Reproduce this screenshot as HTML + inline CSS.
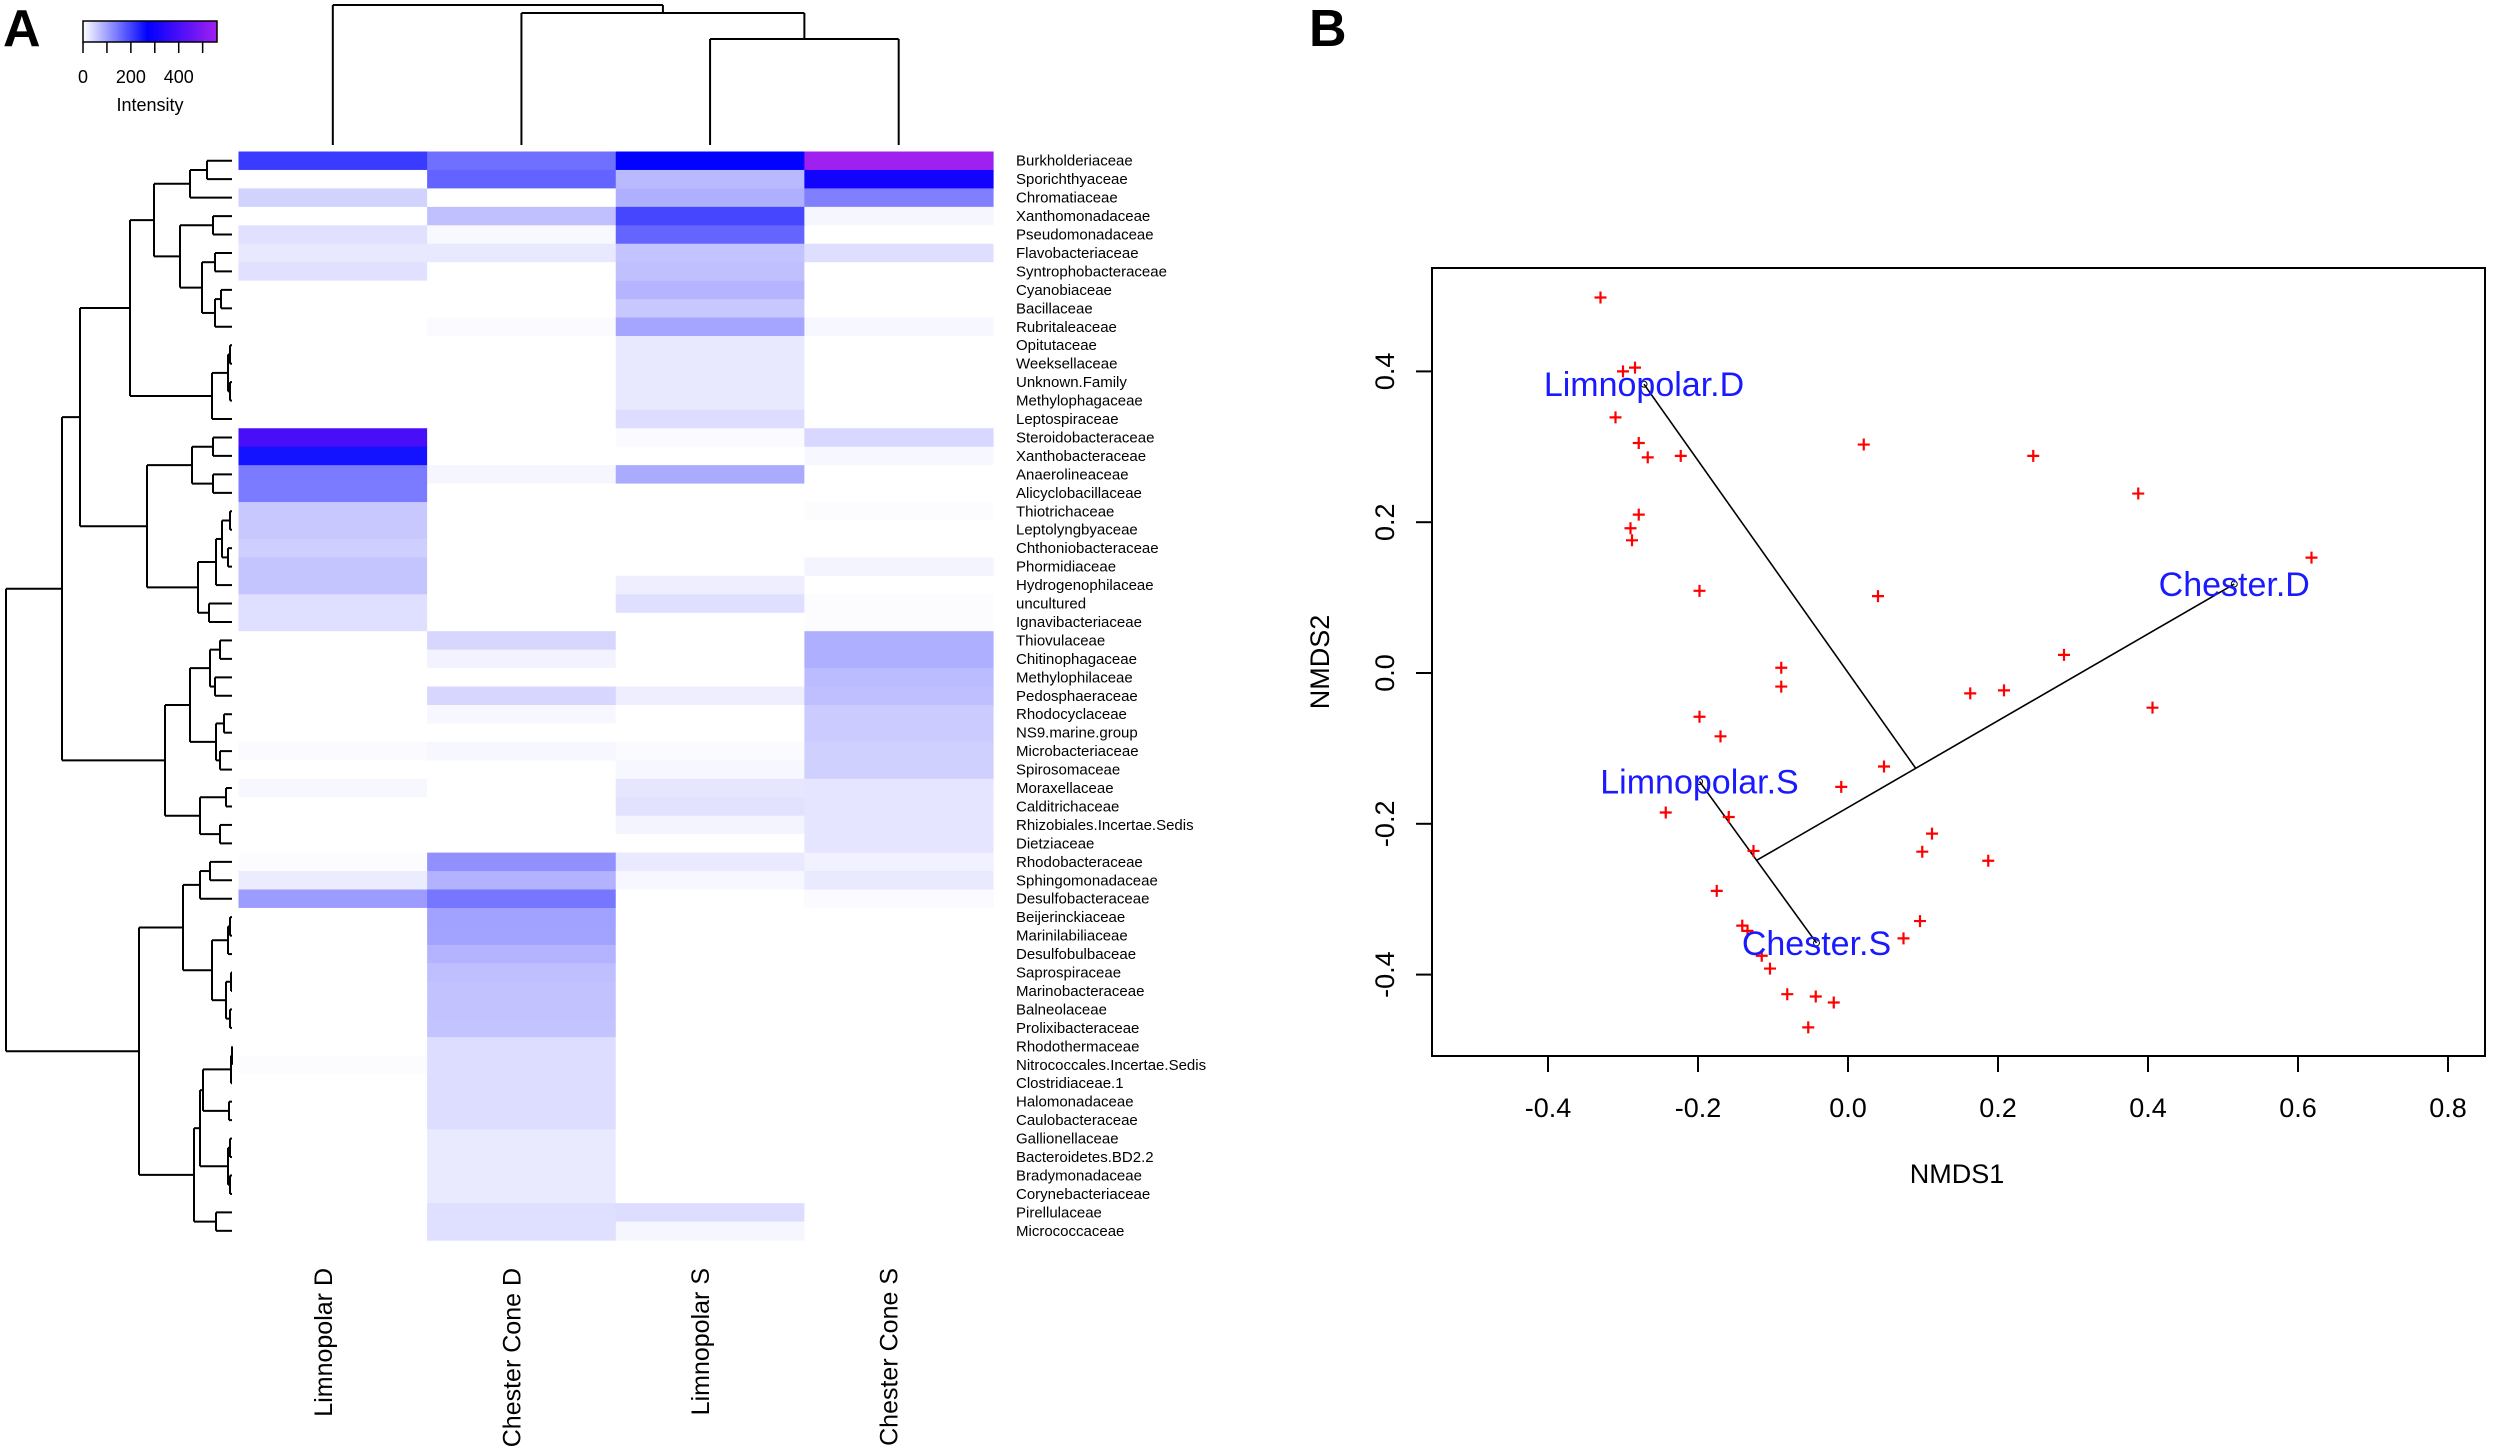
<!DOCTYPE html>
<html><head><meta charset="utf-8"><style>
html,body{margin:0;padding:0;background:#fff;}
svg{display:block;font-family:"Liberation Sans",Arial,sans-serif;}
</style></head><body>
<svg id="fig" width="2500" height="1453" viewBox="0 0 2500 1453">
<rect width="2500" height="1453" fill="#fff"/>
<text x="3" y="46" font-size="52" font-weight="bold">A</text>
<text x="1309" y="46" font-size="52" font-weight="bold">B</text>
<g id="heat"></g>
<g id="nmds"></g>
</svg>
<script>
const families = ["Burkholderiaceae","Sporichthyaceae","Chromatiaceae","Xanthomonadaceae","Pseudomonadaceae","Flavobacteriaceae","Syntrophobacteraceae","Cyanobiaceae","Bacillaceae","Rubritaleaceae","Opitutaceae","Weeksellaceae","Unknown.Family","Methylophagaceae","Leptospiraceae","Steroidobacteraceae","Xanthobacteraceae","Anaerolineaceae","Alicyclobacillaceae","Thiotrichaceae","Leptolyngbyaceae","Chthoniobacteraceae","Phormidiaceae","Hydrogenophilaceae","uncultured","Ignavibacteriaceae","Thiovulaceae","Chitinophagaceae","Methylophilaceae","Pedosphaeraceae","Rhodocyclaceae","NS9.marine.group","Microbacteriaceae","Spirosomaceae","Moraxellaceae","Calditrichaceae","Rhizobiales.Incertae.Sedis","Dietziaceae","Rhodobacteraceae","Sphingomonadaceae","Desulfobacteraceae","Beijerinckiaceae","Marinilabiliaceae","Desulfobulbaceae","Saprospiraceae","Marinobacteraceae","Balneolaceae","Prolixibacteraceae","Rhodothermaceae","Nitrococcales.Incertae.Sedis","Clostridiaceae.1","Halomonadaceae","Caulobacteraceae","Gallionellaceae","Bacteroidetes.BD2.2","Bradymonadaceae","Corynebacteriaceae","Pirellulaceae","Micrococcaceae"];
const samples = ["Limnopolar D","Chester Cone D","Limnopolar S","Chester Cone S"];
const intensity = [
[207,151,275,570],[0,165,74,300],[48,0,85,135],[0,67,196,10],[32,7,164,0],[24,24,64,35],[32,0,67,0],[0,0,78,0],[0,0,58,0],[0,5,95,8],
[0,0,24,0],[0,0,24,0],[0,0,24,0],[0,0,24,0],[0,0,36,0],[400,0,5,42],[250,0,0,8],[140,10,90,0],[140,0,0,0],[58,0,0,3],
[58,0,0,0],[52,0,0,0],[62,0,0,12],[62,0,18,0],[34,0,34,3],[34,0,0,3],[0,43,0,85],[0,13,0,85],[0,0,0,72],[0,43,18,68],
[0,8,0,55],[0,0,0,55],[5,8,5,50],[0,0,8,50],[8,0,27,28],[0,0,31,28],[0,0,12,28],[0,0,0,28],[3,118,22,15],[20,82,8,22],
[105,145,0,5],[0,100,0,0],[0,98,0,0],[0,80,0,0],[0,68,0,0],[0,65,0,0],[0,65,0,0],[0,63,0,0],[0,36,0,0],[3,36,0,0],
[0,36,0,0],[0,36,0,0],[0,36,0,0],[0,22,0,0],[0,22,0,0],[0,22,0,0],[0,22,0,0],[0,34,36,0],[0,34,10,0]];
const legendTicks = [0,100,200,300,400,500];
const legendLabels = [0,200,400];
const colTree = [5,0,[13,1,[39,2,3]]];
const rowTree = [6,
 [62,
  [80,
   [130,[154,[190,[207,0,1],2],[180,[213,3,4],[202,[215,5,6],[215,[221,7,8],9]]]],
        [212,[228,[230,10,11],[230,12,13]],14]],
   [147,[192,[213,15,16],[213,17,18]],
        [198,[216,[222,[230,19,20],[228,21,22]],23],[209,24,25]]]],
  [165,[190,[210,[220,26,27],[215,28,29]],[216,[224,30,31],[220,32,33]]],
       [200,[226,34,35],[220,36,37]]]],
 [139,
  [183,[200,[210,38,39],40],[212,[228,[230,41,42],43],[226,[231,44,45],[230,46,47]]]],
  [194,[200,[203,[231,[232,48,49],50],[229,51,52]],[228,[230,53,54],[230,55,56]]],[216,57,58]]]];

const NS='http://www.w3.org/2000/svg';
function mk(tag, attrs, parent){const e=document.createElementNS(NS,tag);for(const k in attrs)e.setAttribute(k,attrs[k]);parent.appendChild(e);return e;}
const heat=document.getElementById('heat');
const HX0=238.5, HX1=993, HY0=151.5, RH=18.45;
const CW=(HX1-HX0)/samples.length;
function colX(j){return HX0+CW*j;}
function rowY(i){return HY0+RH*i;}
function colorOf(v){
  if(v<=270){const t=v/270;const c=Math.round(255*(1-t));return `rgb(${c},${c},255)`;}
  const t=Math.min(1,(v-270)/290);return `rgb(${Math.round(160*t)},${Math.round(32*t)},${Math.round(255-15*t)})`;
}
const lg=mk('g',{},heat);


const defs=mk('defs',{},lg);
const grad=mk('linearGradient',{id:'lgrad',x1:'0',x2:'1',y1:'0',y2:'0'},defs);
[[0,'#fff'],[270/560,'rgb(0,0,255)'],[1,'rgb(160,32,240)']].forEach(s=>mk('stop',{offset:s[0],'stop-color':s[1]},grad));
const LX0=83, LX1=217, LMAX=560;
function lx(v){return LX0+(LX1-LX0)*v/LMAX;}
const lr=mk('rect',{x:LX0,y:21,width:LX1-LX0,height:21,fill:'url(#lgrad)',stroke:'#000','stroke-width':1.5},lg);


legendTicks.forEach(t=>{const l=mk('line',{x1:lx(t),x2:lx(t),y1:42,y2:53,stroke:'#000','stroke-width':1.5},lg);
  
  });
legendLabels.forEach(t=>{const tx=mk('text',{x:lx(t),y:83,'font-size':18,'text-anchor':'middle'},lg);tx.textContent=t;
  
  });
const lt=mk('text',{x:150,y:111,'font-size':18,'text-anchor':'middle'},lg);lt.textContent='Intensity';


intensity.forEach((row,i)=>row.forEach((v,j)=>{
  const r=mk('rect',{x:colX(j),y:rowY(i),width:CW+0.6,height:RH+0.6,fill:colorOf(v)},heat);
  
  
}));
families.forEach((f,i)=>{const t=mk('text',{x:1016,y:rowY(i)+RH/2+5,'font-size':15},heat);t.textContent=f;
  
  });
samples.forEach((s,j)=>{const cx=colX(j)+CW/2-1;
  const t=mk('text',{x:0,y:0,'font-size':25,'text-anchor':'end',transform:`translate(${cx},1268) rotate(-90)`},heat);t.textContent=s;
  
  });
const dg=mk('g',{stroke:'#000','stroke-width':2,fill:'none'},heat);


function line(x1,y1,x2,y2,name){const l=mk('line',{x1,y1,x2,y2},dg);
  
  }
function drawRow(n){
  if(typeof n==='number')return [232,rowY(n)+RH/2];
  const a=drawRow(n[1]),b=drawRow(n[2]),h=n[0];
  line(h,a[1],h,b[1],'row-dendrogram-branch');line(h,a[1],a[0],a[1],'row-dendrogram-branch');line(h,b[1],b[0],b[1],'row-dendrogram-branch');
  return [h,(a[1]+b[1])/2];
}
drawRow(rowTree);
function drawCol(n){
  if(typeof n==='number')return [colX(n)+CW/2,145];
  const a=drawCol(n[1]),b=drawCol(n[2]),h=n[0];
  line(a[0],h,b[0],h,'column-dendrogram-branch');line(a[0],h,a[0],a[1],'column-dendrogram-branch');line(b[0],h,b[0],b[1],'column-dendrogram-branch');
  return [(a[0]+b[0])/2,h];
}
drawCol(colTree);

const nx = [-0.330,-0.300,-0.284,-0.310,-0.279,-0.267,-0.223,-0.279,-0.290,-0.288,-0.198,0.021,0.247,0.387,0.618,0.040,-0.089,-0.089,0.288,0.163,0.208,0.406,-0.198,-0.170,0.048,-0.009,-0.243,-0.159,-0.126,0.112,0.099,0.187,-0.175,0.096,0.074,-0.141,-0.134,-0.115,-0.104,-0.081,-0.043,-0.019,-0.053];
const ny = [0.498,0.400,0.405,0.339,0.305,0.286,0.288,0.210,0.192,0.176,0.109,0.303,0.288,0.238,0.153,0.102,0.007,-0.018,0.024,-0.027,-0.023,-0.046,-0.058,-0.084,-0.124,-0.151,-0.185,-0.191,-0.236,-0.213,-0.237,-0.249,-0.289,-0.329,-0.352,-0.335,-0.342,-0.375,-0.392,-0.426,-0.429,-0.437,-0.470];
const groupNames = ["Limnopolar.D","Chester.D","Limnopolar.S","Chester.S"];
const groupX = [-0.272,0.515,-0.198,-0.042];
const groupY = [0.383,0.118,-0.144,-0.358];
const nodeX = [0.090,-0.121];
const nodeY = [-0.126,-0.248];
const xTicks = [-0.4,-0.2,0.0,0.2,0.4,0.6,0.8];
const yTicks = [-0.4,-0.2,0.0,0.2,0.4];
const xLabels = ["-0.4","-0.2","0.0","0.2","0.4","0.6","0.8"];
const yLabels = ["-0.4","-0.2","0.0","0.2","0.4"];
const nm=document.getElementById('nmds');
function sx(v){return 1848+750*v;}
function sy(v){return 673-754*v;}
const box=mk('rect',{x:1432,y:268,width:1053,height:788,fill:'none',stroke:'#000','stroke-width':2},nm);


xTicks.forEach((t,i)=>{const l=mk('line',{x1:sx(t),x2:sx(t),y1:1056,y2:1072,stroke:'#000','stroke-width':2},nm);
  
  
  const tx=mk('text',{x:sx(t),y:1117,'font-size':27,'text-anchor':'middle'},nm);tx.textContent=xLabels[i];
  
  });
yTicks.forEach((t,i)=>{const l=mk('line',{x1:1416,x2:1432,y1:sy(t),y2:sy(t),stroke:'#000','stroke-width':2},nm);
  
  
  const tx=mk('text',{x:0,y:0,'font-size':27,'text-anchor':'middle',transform:`translate(1394,${sy(t)}) rotate(-90)`},nm);tx.textContent=yLabels[i];
  
  });
const xt=mk('text',{x:1957,y:1183,'font-size':27,'text-anchor':'middle'},nm);xt.textContent='NMDS1';


const yt=mk('text',{x:0,y:0,'font-size':27,'text-anchor':'middle',transform:'translate(1329,662) rotate(-90)'},nm);yt.textContent='NMDS2';


const segs=[[groupX[0],groupY[0],nodeX[0],nodeY[0]],[groupX[1],groupY[1],nodeX[1],nodeY[1]],[groupX[2],groupY[2],groupX[3],groupY[3]]];
segs.forEach(s=>{const l=mk('line',{x1:sx(s[0]),y1:sy(s[1]),x2:sx(s[2]),y2:sy(s[3]),stroke:'#000','stroke-width':1.6},nm);
  
  });
nx.forEach((v,i)=>{const x=sx(v),y=sy(ny[i]);
  const p=mk('path',{d:`M${x-6},${y}H${x+6}M${x},${y-6}V${y+6}`,stroke:'#f00','stroke-width':2.2},nm);
  
  });
groupNames.forEach((g,i)=>{
  const c=mk('circle',{cx:sx(groupX[i]),cy:sy(groupY[i]),r:3,fill:'none',stroke:'#000','stroke-width':1},nm);
  
  
  const t=mk('text',{x:sx(groupX[i]),y:sy(groupY[i])+12,'font-size':34,'text-anchor':'middle',fill:'#1a1aff'},nm);t.textContent=g;
  
  });
</script>
</body></html>
